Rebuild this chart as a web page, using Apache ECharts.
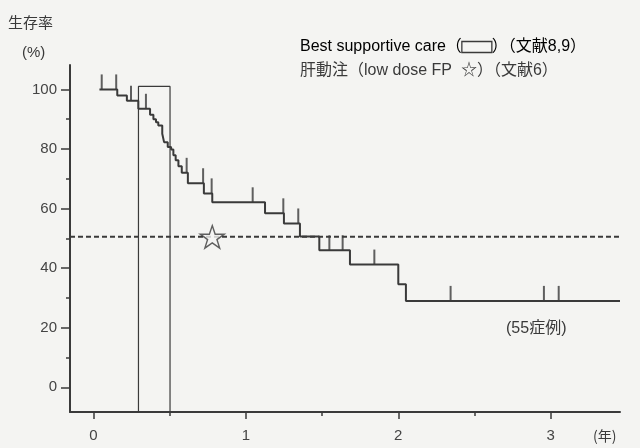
<!DOCTYPE html>
<html>
<head>
<meta charset="utf-8">
<script src="https://cdn.jsdelivr.net/npm/echarts@6/dist/echarts.min.js"></script>
<style>
  html, body { margin: 0; padding: 0; background: #f4f4f2; }
  #chart { width: 640px; height: 448px; }
</style>
</head>
<body>
<div id="chart"></div>
<script>
// 生存曲線 (Kaplan-Meier), 時間は年
const kmTimes = [0.04, 0.157, 0.22, 0.295, 0.372, 0.394, 0.411, 0.426, 0.452, 0.464, 0.488, 0.51, 0.525, 0.54, 0.558, 0.58, 0.62, 0.725, 0.78, 1.126, 1.25, 1.355, 1.482, 1.683, 2.0, 2.05, 3.454];
const kmSurvival = [100, 98, 96.2, 93.5, 91.5, 90, 89, 87.9, 85.1, 82.3, 80.7, 79.8, 77.9, 76.2, 74.2, 72, 68.5, 65.1, 62.1, 58.4, 55, 50.6, 46, 41.2, 34.6, 29, 29];
// 打ち切り
const censorTimes = [0.055, 0.15, 0.247, 0.345, 0.612, 0.72, 0.776, 1.045, 1.246, 1.344, 1.548, 1.635, 1.843, 2.343, 2.955, 3.052];
// Best supportive care の範囲
const bscTimes = [0.296, 0.503];
const bscTop = 101;
// 肝動注 (low dose FP)
const fpPoint = [0.78, 50.5];
const medianLine = 50.5;

const yLabels = [0, 20, 40, 60, 80, 100];
const yMinor = [10, 30, 50, 70, 90];
const xLabels = [0, 1, 2, 3];
const xMinor = [0.5, 1.5, 2.5];

const X_MIN = -0.153, X_MAX = 3.454, Y_MIN = -8.3, Y_MAX = 108.2;
const ink = '#3a3a3a';
const font = '"Liberation Sans", "Noto Sans CJK JP", sans-serif';

function survivalAt(t) {
    let s = kmSurvival[0];
    for (let i = 0; i < kmTimes.length; i++) {
        if (kmTimes[i] <= t) s = kmSurvival[i];
    }
    return s;
}

const kmData = kmTimes.map((t, i) => [t, kmSurvival[i]]);
const censorData = censorTimes.map(t => [t, survivalAt(t)]);
const boxData = [
    [bscTimes[0], Y_MIN], [bscTimes[0], bscTop],
    [bscTimes[1], bscTop], [bscTimes[1], Y_MIN]
];

const chart = echarts.init(document.getElementById('chart'));

const starPath = 'path://M50,0 L61.8,35.1 L98.9,35.1 L69,57 L80.2,92 L50,70.5 L19.8,92 L31,57 L1.1,35.1 L38.2,35.1 Z';

const option = {
    backgroundColor: '#f4f4f2',
    animation: false,
    textStyle: { fontFamily: font, color: ink },
    grid: { left: 70, right: 20, top: 65, bottom: 36 },
    xAxis: [
        {
            type: 'value', min: X_MIN, max: X_MAX, position: 'bottom',
            splitLine: { show: false },
            axisLine: { onZero: false, lineStyle: { color: ink, width: 2 } },
            axisTick: { customValues: xLabels, length: 7, lineStyle: { color: ink, width: 1.5 } },
            axisLabel: { customValues: xLabels, margin: 16, fontSize: 15, color: '#444' }
        },
        {
            type: 'value', min: X_MIN, max: X_MAX, position: 'bottom',
            splitLine: { show: false },
            axisLine: { show: false, onZero: false },
            axisTick: { customValues: xMinor, length: 4, lineStyle: { color: ink, width: 1.5 } },
            axisLabel: { show: false }
        }
    ],
    yAxis: [
        {
            type: 'value', min: Y_MIN, max: Y_MAX, position: 'left',
            splitLine: { show: false },
            axisLine: { onZero: false, lineStyle: { color: ink, width: 2 } },
            axisTick: { customValues: yLabels, length: 9, lineStyle: { color: ink, width: 1.5 } },
            axisLabel: { customValues: yLabels, margin: 13, fontSize: 15, color: '#444' }
        },
        {
            type: 'value', min: Y_MIN, max: Y_MAX, position: 'left',
            splitLine: { show: false },
            axisLine: { show: false, onZero: false },
            axisTick: { customValues: yMinor, length: 4, lineStyle: { color: ink, width: 1.5 } },
            axisLabel: { show: false }
        }
    ],
    graphic: [
        { type: 'text', left: 8, top: 15, style: { text: '生存率', font: '15px "Noto Sans CJK JP"', fill: ink } },
        { type: 'text', left: 22, top: 45, style: { text: '(%)', font: '15px "Liberation Sans"', fill: ink } },
        { type: 'text', left: 593, top: 429, style: { text: '(年)', font: '14px "Noto Sans CJK JP"', fill: ink } },
        { type: 'text', left: 506, top: 321, style: { text: '(55症例)', font: '16px "Liberation Sans", "Noto Sans CJK JP"', fill: ink } },
        {
            type: 'text', left: 300, top: 39,
            style: {
                text: '{t|Best supportive care（}{box| }{t|）（文献8,9）}',
                rich: {
                    t: { fontSize: 16, fontFamily: font, color: ink },
                    box: { width: 30, height: 11, borderColor: ink, borderWidth: 1.3 }
                }
            }
        },
        {
            type: 'text', left: 300, top: 63,
            style: { text: '肝動注（low dose FP  ☆）（文献6）', font: '16px "Liberation Sans", "Noto Sans CJK JP"', fill: ink }
        }
    ],
    series: [
        {
            type: 'line', data: boxData, symbol: 'none', silent: true,
            lineStyle: { color: ink, width: 1.2 }
        },
        {
            type: 'line', data: [[X_MIN, medianLine], [3.6, medianLine]], symbol: 'none', clip: false,
            lineStyle: { color: ink, width: 2, type: [5, 3] }
        },
        {
            type: 'line', data: kmData, step: 'end', symbol: 'none',
            lineStyle: { color: ink, width: 2 }
        },
        {
            type: 'scatter', data: censorData, symbol: 'rect', symbolSize: [2, 15],
            symbolOffset: [0, '-50%'], itemStyle: { color: ink }
        },
        {
            type: 'scatter', data: [fpPoint], symbol: starPath, symbolSize: 24, symbolKeepAspect: true,
            itemStyle: { color: '#f4f4f2', borderColor: ink, borderWidth: 1.4 }, z: 5
        }
    ]
};
chart.setOption(option);
</script>
</body>
</html>
